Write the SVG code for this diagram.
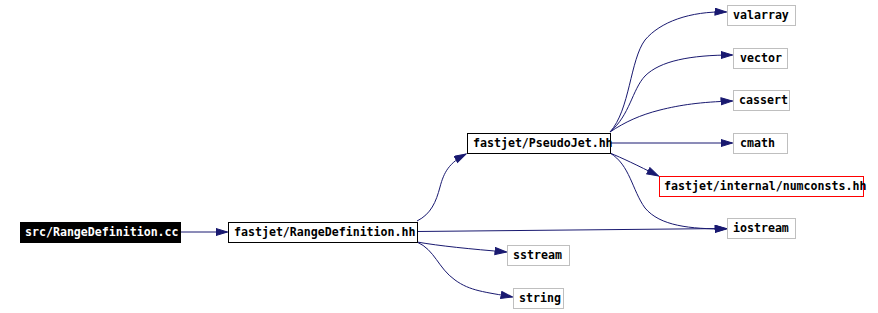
<svg xmlns="http://www.w3.org/2000/svg" width="878" height="313" viewBox="0 0 878 313">
<style>
.box{fill:#ffffff;stroke:#000000;stroke-width:1}
.ext{fill:#ffffff;stroke:#bfbfbf;stroke-width:1}
.red{fill:#ffffff;stroke:#ff0000;stroke-width:1}
.root{fill:#000000;stroke:#000000;stroke-width:1}
text{font-family:"DejaVu Sans Mono","Liberation Mono",monospace;font-size:11.6px;font-weight:bold;fill:#000000}
.wt{fill:#ffffff}
.edge{fill:none;stroke:#191970;stroke-width:1}
</style>
<defs>
<marker id="arr" markerUnits="userSpaceOnUse" markerWidth="13" markerHeight="9" refX="12" refY="4" orient="auto">
<path d="M0.5,0.5 L12,4 L0.5,7.5 z" fill="#191970" stroke="#191970" stroke-width="1"/>
</marker>
</defs>
<g id="edges">
<path class="edge" marker-end="url(#arr)" d="M180.5,232 L227.5,232"/>
<path class="edge" marker-end="url(#arr)" d="M417,221 C431,214 436,202 440,187 C444,172 449,163 466,154"/>
<path class="edge" marker-end="url(#arr)" d="M417,231.5 L726.5,228.5"/>
<path class="edge" marker-end="url(#arr)" d="M417,242 C440,246 470,249 506.5,252"/>
<path class="edge" marker-end="url(#arr)" d="M417,242 C435,250 438,268 455,280 C470,291 485,292 512.5,297"/>
<path class="edge" marker-end="url(#arr)" d="M610,132 C630,110 630,60 645,40 C660,22 690,11 726.5,12"/>
<path class="edge" marker-end="url(#arr)" d="M610,132 C630,115 632,90 645,76 C660,61 690,55 732.5,55"/>
<path class="edge" marker-end="url(#arr)" d="M610,132 C625,122 640,115 660,110 C680,105 700,102 732.5,101"/>
<path class="edge" marker-end="url(#arr)" d="M610,143 L732.5,143"/>
<path class="edge" marker-end="url(#arr)" d="M610,153 C622,158 637,165 658.5,176"/>
<path class="edge" marker-end="url(#arr)" d="M610,153 C630,165 632,190 645,208 C660,226 690,229 726.5,229"/>
</g>
<g id="node-src"><rect class="root" x="20.5" y="222.5" width="160" height="20"/><text class="wt" x="25" y="236">src/RangeDefinition.cc</text></g>
<g id="node-rangedef"><rect class="box" x="228.5" y="222.5" width="189" height="20"/><text x="234" y="236">fastjet/RangeDefinition.hh</text></g>
<g id="node-pseudojet"><rect class="box" x="467.5" y="133.5" width="143" height="20"/><text x="473" y="147">fastjet/PseudoJet.hh</text></g>
<g id="node-valarray"><rect class="ext" x="727.5" y="5.5" width="68" height="20"/><text x="733" y="19">valarray</text></g>
<g id="node-vector"><rect class="ext" x="733.5" y="48.5" width="54" height="20"/><text x="740" y="62">vector</text></g>
<g id="node-cassert"><rect class="ext" x="733.5" y="90.5" width="56" height="20"/><text x="739" y="104">cassert</text></g>
<g id="node-cmath"><rect class="ext" x="733.5" y="133.5" width="54" height="20"/><text x="740" y="147">cmath</text></g>
<g id="node-numconsts"><rect class="red" x="659.5" y="176.5" width="204" height="20"/><text x="664" y="190">fastjet/internal/numconsts.hh</text></g>
<g id="node-iostream"><rect class="ext" x="727.5" y="218.5" width="68" height="20"/><text x="733" y="232">iostream</text></g>
<g id="node-sstream"><rect class="ext" x="507.5" y="245.5" width="62" height="20"/><text x="513" y="259">sstream</text></g>
<g id="node-string"><rect class="ext" x="513.5" y="288.5" width="50" height="20"/><text x="519" y="302">string</text></g>
</svg>
